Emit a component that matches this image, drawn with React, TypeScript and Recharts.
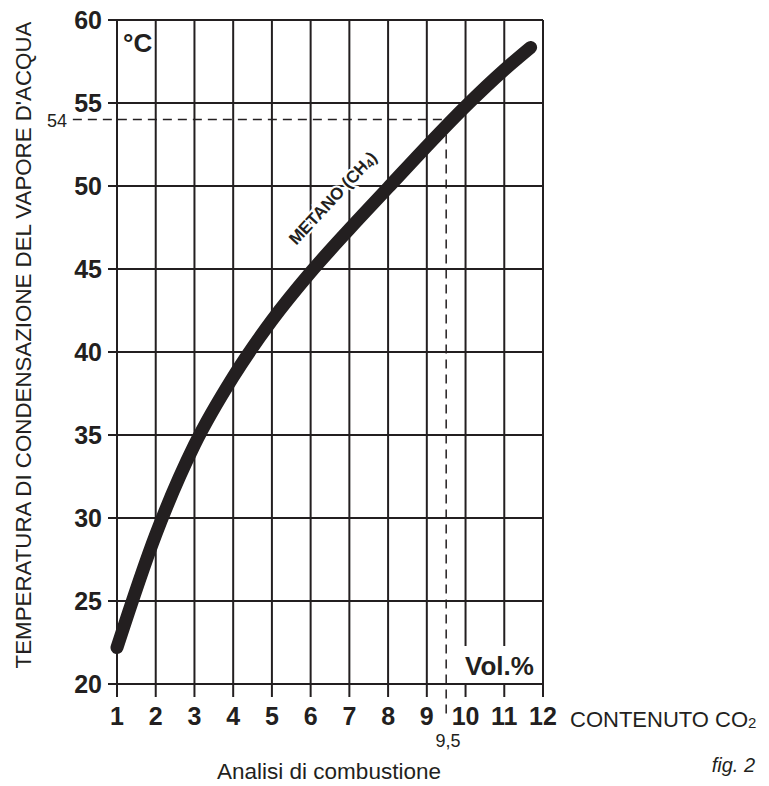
import React from 'react';
import { LineChart, Line, XAxis, YAxis, CartesianGrid, ReferenceLine } from 'recharts';

// CO2 content (vol.%) vs dew point of the flue gas water vapour (°C), methane
const co2Values = [1, 2, 3, 4, 5, 6, 7, 8, 9, 10, 11, 11.68];
const condensationTemps = [22.2, 29.0, 34.4, 38.5, 41.9, 44.8, 47.4, 49.9, 52.4, 54.8, 57.0, 58.35];

const xTicks = [1, 2, 3, 4, 5, 6, 7, 8, 9, 10, 11, 12];
const yTicks = [20, 25, 30, 35, 40, 45, 50, 55, 60];

const refCo2 = 9.5;
const refTemp = 54;

const ink = '#231f20';
const font = '"Liberation Sans", Arial, Helvetica, sans-serif';

const data = co2Values.map((co2, i) => ({ co2, temp: condensationTemps[i] }));

const App: React.FC = () => {
  return (
    <div style={{ position: 'absolute', left: 0, top: 0, width: 769, height: 786, background: '#fff', fontFamily: font }}>
      <LineChart width={769} height={786} data={data} margin={{ top: 20, right: 226, bottom: 0, left: 0 }}>
        <CartesianGrid stroke={ink} strokeWidth={2} />
        <XAxis
          dataKey="co2"
          type="number"
          domain={[1, 12]}
          ticks={xTicks}
          interval={0}
          height={102}
          tickSize={13}
          tickMargin={10}
          axisLine={false}
          tickLine={{ stroke: ink, strokeWidth: 2 }}
          tick={{ fill: ink, fontSize: 25, fontWeight: 'bold', fontFamily: font }}
        />
        <YAxis
          type="number"
          domain={[20, 60]}
          ticks={yTicks}
          interval={0}
          width={117}
          tickSize={9}
          tickMargin={6}
          axisLine={false}
          tickLine={{ stroke: ink, strokeWidth: 2 }}
          tick={{ fill: ink, fontSize: 25, fontWeight: 'bold', fontFamily: font }}
        />
        <ReferenceLine
          segment={[{ x: -0.14, y: refTemp }, { x: refCo2, y: refTemp }]}
          ifOverflow="visible"
          stroke={ink}
          strokeWidth={1.5}
          strokeDasharray="9 6"
        />
        <ReferenceLine
          segment={[{ x: refCo2, y: refTemp }, { x: refCo2, y: 17.9 }]}
          ifOverflow="visible"
          stroke={ink}
          strokeWidth={1.5}
          strokeDasharray="9 6"
        />
        <Line
          type="monotone"
          dataKey="temp"
          stroke={ink}
          strokeWidth={13}
          strokeLinecap="round"
          dot={false}
          activeDot={false}
          isAnimationActive={false}
        />
      </LineChart>
      <svg width={769} height={786} style={{ position: 'absolute', left: 0, top: 0, pointerEvents: 'none' }} fontFamily={font}>
        <text x={123} y={52} fontSize={26} fontWeight="bold" fill={ink}>°C</text>
        <rect x={458} y={646} width={84} height={37} fill="#fff" />
        <text x={465} y={675} fontSize={26} fontWeight="bold" fill={ink}>Vol.%</text>
        <text
          x={337}
          y={202}
          fontSize={17}
          fontWeight="bold"
          fill={ink}
          textAnchor="middle"
          stroke="#fff"
          strokeWidth={4}
          paintOrder="stroke"
          transform="rotate(-47 337 202)"
        >
          METANO (CH<tspan fontSize={12} dy={2}>4</tspan><tspan dy={-2}>)</tspan>
        </text>
        <text x={67} y={127} fontSize={18} fill={ink} textAnchor="end">54</text>
        <text x={448} y={747} fontSize={18} fill={ink} textAnchor="middle">9,5</text>
        <text x={570} y={727} fontSize={22} fill={ink}>
          CONTENUTO CO<tspan fontSize={15} dy={1}>2</tspan>
        </text>
        <text x={329} y={779} fontSize={22.5} fill={ink} textAnchor="middle">Analisi di combustione</text>
        <text x={755} y={772} fontSize={20} fontStyle="italic" fill={ink} textAnchor="end">fig. 2</text>
        <text
          x={23.5}
          y={345}
          fontSize={22.3}
          fill={ink}
          textAnchor="middle"
          dominantBaseline="central"
          transform="rotate(-90 23.5 345)"
        >
          TEMPERATURA DI CONDENSAZIONE DEL VAPORE D'ACQUA
        </text>
      </svg>
    </div>
  );
};

export default App;
